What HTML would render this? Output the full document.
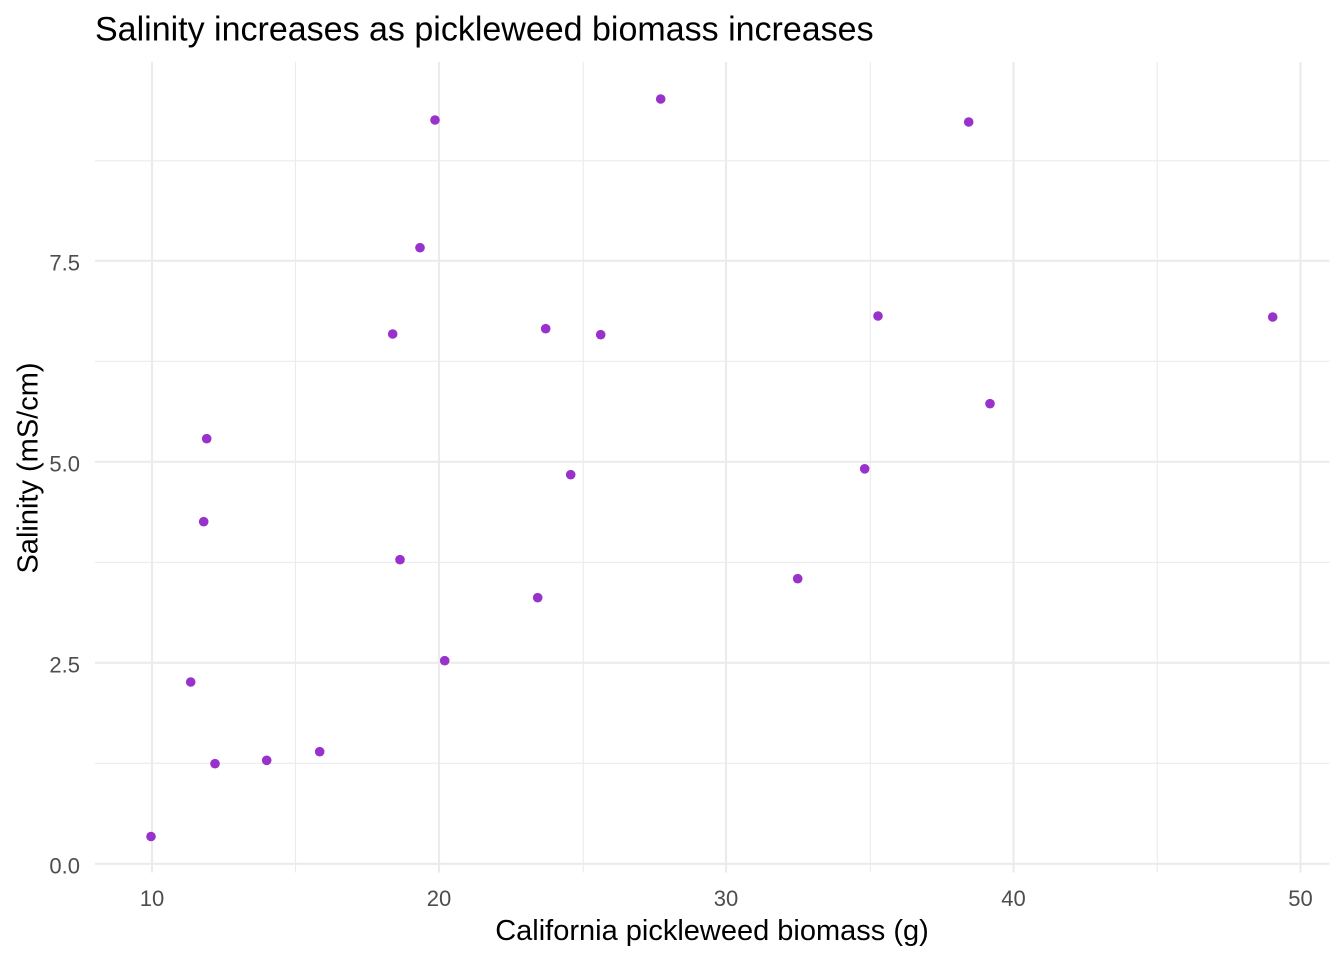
<!DOCTYPE html>
<html>
<head>
<meta charset="utf-8">
<style>
html,body{margin:0;padding:0;background:#fff;}
svg{display:block;}
text{font-family:"Liberation Sans",Arial,sans-serif;}
</style>
</head>
<body>
<svg width="1344" height="960" viewBox="0 0 1344 960" xmlns="http://www.w3.org/2000/svg">
<rect x="0" y="0" width="1344" height="960" fill="#ffffff"/>
<!-- minor grid -->
<g stroke="#EBEBEB" stroke-width="1.1" fill="none">
<line x1="95" x2="1329.5" y1="763.3" y2="763.3"/>
<line x1="95" x2="1329.5" y1="562.3" y2="562.3"/>
<line x1="95" x2="1329.5" y1="361.3" y2="361.3"/>
<line x1="95" x2="1329.5" y1="160.8" y2="160.8"/>
<line x1="295.5" x2="295.5" y1="62" y2="872.5"/>
<line x1="583.3" x2="583.3" y1="62" y2="872.5"/>
<line x1="870.3" x2="870.3" y1="62" y2="872.5"/>
<line x1="1157.3" x2="1157.3" y1="62" y2="872.5"/>
</g>
<!-- major grid -->
<g stroke="#EBEBEB" stroke-width="2.1" fill="none">
<line x1="95" x2="1329.5" y1="863.8" y2="863.8"/>
<line x1="95" x2="1329.5" y1="662.8" y2="662.8"/>
<line x1="95" x2="1329.5" y1="461.8" y2="461.8"/>
<line x1="95" x2="1329.5" y1="260.8" y2="260.8"/>
<line x1="152" x2="152" y1="62" y2="872.5"/>
<line x1="439" x2="439" y1="62" y2="872.5"/>
<line x1="726" x2="726" y1="62" y2="872.5"/>
<line x1="1013.5" x2="1013.5" y1="62" y2="872.5"/>
<line x1="1300.5" x2="1300.5" y1="62" y2="872.5"/>
</g>
<!-- points -->
<g fill="#9932CC">
<circle cx="151" cy="836.5" r="4.8"/>
<circle cx="190.7" cy="682" r="4.8"/>
<circle cx="203.7" cy="521.7" r="4.8"/>
<circle cx="206.7" cy="438.7" r="4.8"/>
<circle cx="215" cy="763.7" r="4.8"/>
<circle cx="266.7" cy="760.3" r="4.8"/>
<circle cx="319.7" cy="751.7" r="4.8"/>
<circle cx="392.7" cy="334" r="4.8"/>
<circle cx="400" cy="559.7" r="4.8"/>
<circle cx="420" cy="247.7" r="4.8"/>
<circle cx="435" cy="120" r="4.8"/>
<circle cx="444.7" cy="660.7" r="4.8"/>
<circle cx="537.7" cy="597.7" r="4.8"/>
<circle cx="545.7" cy="328.7" r="4.8"/>
<circle cx="570.7" cy="474.7" r="4.8"/>
<circle cx="600.7" cy="334.7" r="4.8"/>
<circle cx="660.7" cy="99" r="4.8"/>
<circle cx="797.7" cy="578.7" r="4.8"/>
<circle cx="864.7" cy="468.8" r="4.8"/>
<circle cx="878" cy="316" r="4.8"/>
<circle cx="968.7" cy="122" r="4.8"/>
<circle cx="990" cy="403.7" r="4.8"/>
<circle cx="1272.7" cy="317" r="4.8"/>
</g>
<!-- y tick labels -->
<g fill="#4D4D4D" font-size="22" text-anchor="end">
<text x="80" y="873.5">0.0</text>
<text x="80" y="672.5">2.5</text>
<text x="80" y="471.5">5.0</text>
<text x="80" y="270.5">7.5</text>
</g>
<!-- x tick labels -->
<g fill="#4D4D4D" font-size="22" text-anchor="middle">
<text x="152" y="906">10</text>
<text x="439" y="906">20</text>
<text x="726" y="906">30</text>
<text x="1013.5" y="906">40</text>
<text x="1300.5" y="906">50</text>
</g>
<!-- axis titles -->
<text x="712" y="940" font-size="29" text-anchor="middle" fill="#000">California pickleweed biomass (g)</text>
<text transform="translate(37.5,468) rotate(-90)" x="0" y="0" font-size="29" text-anchor="middle" fill="#000">Salinity (mS/cm)</text>
<!-- title -->
<text x="95" y="40.5" font-size="34" fill="#000">Salinity increases as pickleweed biomass increases</text>
</svg>
</body>
</html>
